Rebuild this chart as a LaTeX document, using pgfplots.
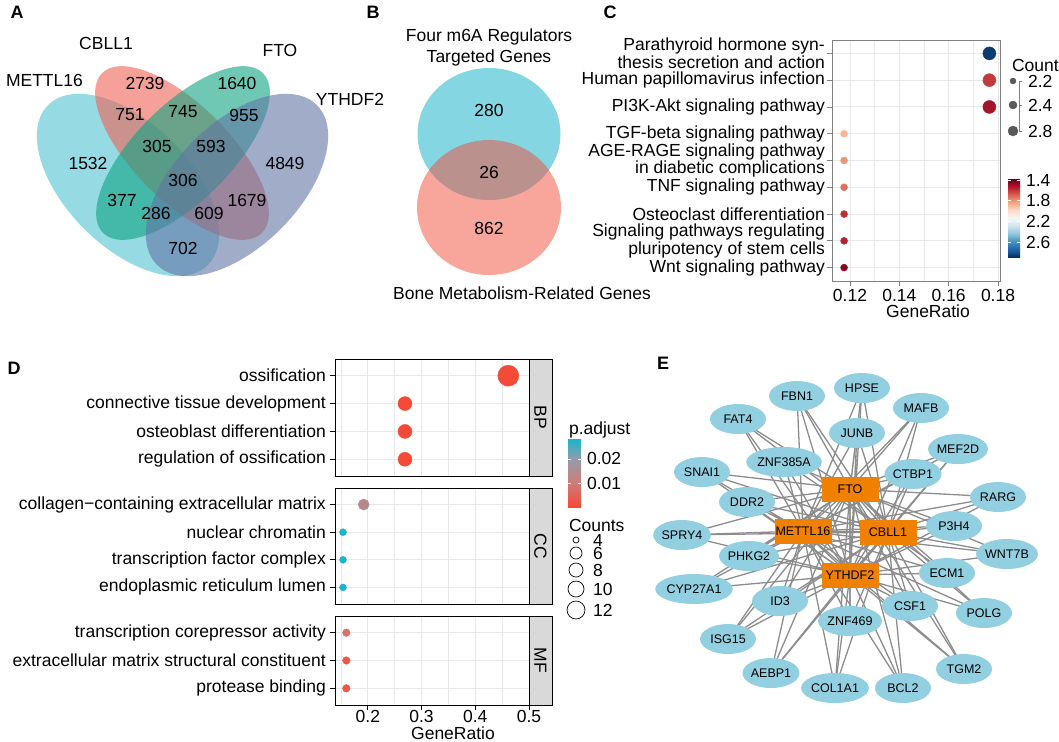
\documentclass[border=0pt]{standalone}
\usepackage{fontspec}
\setmainfont{Liberation Sans}
\usepackage{pgfplots}
\pgfplotsset{compat=1.18}
\usetikzlibrary{shapes.geometric}

\definecolor{vM}{RGB}{80,193,210}
\definecolor{vC}{RGB}{238,97,83}
\definecolor{vF}{RGB}{13,163,130}
\definecolor{vY}{RGB}{97,117,163}
\definecolor{bT}{RGB}{10,175,197}
\definecolor{bS}{RGB}{241,77,57}
\definecolor{netblue}{RGB}{146,208,225}
\definecolor{netorange}{RGB}{240,128,0}
\definecolor{edgegray}{RGB}{140,140,140}
\definecolor{stripgray}{RGB}{217,217,217}
\definecolor{gridgray}{RGB}{232,232,232}
\definecolor{legdot}{RGB}{89,89,89}
% RdBu stops (panel C colour bar)
\definecolor{rb0}{RGB}{103,0,31}
\definecolor{rb1}{RGB}{178,24,43}
\definecolor{rb2}{RGB}{214,96,77}
\definecolor{rb3}{RGB}{244,165,130}
\definecolor{rb4}{RGB}{253,219,199}
\definecolor{rb5}{RGB}{247,247,247}
\definecolor{rb6}{RGB}{209,229,240}
\definecolor{rb7}{RGB}{146,197,222}
\definecolor{rb8}{RGB}{67,147,195}
\definecolor{rb9}{RGB}{33,102,172}
\definecolor{rb10}{RGB}{5,48,97}
% p.adjust stops (panel D colour bar)
\definecolor{pa0}{RGB}{245,72,52}
\definecolor{pa1}{RGB}{205,125,120}
\definecolor{pa2}{RGB}{150,155,168}
\definecolor{pa3}{RGB}{25,180,205}

\pgfplotsset{
  /pgf/number format/assume math mode=true,
  colormap={rdbu}{rgb255=(103,0,31) rgb255=(178,24,43) rgb255=(214,96,77) rgb255=(244,165,130) rgb255=(253,219,199) rgb255=(247,247,247) rgb255=(209,229,240) rgb255=(146,197,222) rgb255=(67,147,195) rgb255=(33,102,172) rgb255=(5,48,97)},
  colormap={padj}{rgb255(0pt)=(245,72,52) rgb255(35pt)=(205,125,120) rgb255(70pt)=(150,155,168) rgb255(100pt)=(25,180,205)},
  ggpanel/.style={
    scale only axis, y dir=reverse,
    tick align=outside, major tick length=5pt, minor tick length=0pt,
    xtick pos=left, ytick pos=left,
    grid=both,
    major grid style={gridgray, line width=0.9pt},
    minor grid style={gridgray, line width=0.5pt},
    yticklabel style={align=right},
  },
  sizedots/.style={
    scatter, only marks, mark=*,
    scatter/use mapped color={#1},
    visualization depends on={\thisrow{s} \as \msize},
    scatter/@pre marker code/.append style={/tikz/mark size=\msize},
  },
  sizedots/.default={draw=mapped color,fill=mapped color},
  cbar/.style={
    scale only axis, anchor=south west, xmin=0, xmax=1, enlargelimits=false,
    xtick=\empty, scaled y ticks=false, axis on top,
    axis line style={draw=none}, tick style={draw=white, line width=0.7pt},
    major tick length=3pt, tick align=inside, ytick pos=both, yticklabel pos=right,
  },
}

\begin{document}
\fontsize{17.5}{20}\selectfont
\begin{tikzpicture}[x=1pt, y=1pt, font=\fontsize{17.5}{20}\selectfont]
\useasboundingbox (0pt,0pt) rectangle (1059pt,-741pt);

% ---------- canvas for Venn diagrams, network and legends ----------
\begin{axis}[at={(0pt,0pt)}, anchor=north west, width=1059pt, height=741pt,
  scale only axis, hide axis, clip=false,
  xmin=0, xmax=1059, ymin=0, ymax=741, y dir=reverse]

% panel letters
\node[font=\fontsize{18}{20}\selectfont\bfseries] at (axis cs:17,12) {A};
\node[font=\fontsize{18}{20}\selectfont\bfseries] at (axis cs:373,12) {B};
\node[font=\fontsize{18}{20}\selectfont\bfseries] at (axis cs:610,12) {C};
\node[font=\fontsize{18}{20}\selectfont\bfseries] at (axis cs:14,368) {D};
\node[font=\fontsize{18}{20}\selectfont\bfseries] at (axis cs:663,363) {E};

% A: four-set Venn
\fill[vM, fill opacity=0.6, rotate around={-45:(axis cs:128,185)}] (axis cs:128,185) ellipse [x radius=113pt, y radius=62pt];
\fill[vC, fill opacity=0.6, rotate around={-45:(axis cs:182,153)}] (axis cs:182,153) ellipse [x radius=113pt, y radius=48pt];
\fill[vF, fill opacity=0.6, rotate around={45:(axis cs:183,153)}] (axis cs:183,153) ellipse [x radius=113pt, y radius=48pt];
\fill[vY, fill opacity=0.6, rotate around={45:(axis cs:237,185)}] (axis cs:237,185) ellipse [x radius=113pt, y radius=62pt];
\node[anchor=west] at (axis cs:0,80) {METTL16};
\node at (axis cs:106,43) {CBLL1};
\node at (axis cs:280,50) {FTO};
\node at (axis cs:350,99) {YTHDF2};
\node at (axis cs:145,83) {2739};
\node at (axis cs:237,83) {1640};
\node at (axis cs:130,115) {751};
\node at (axis cs:183,112) {745};
\node at (axis cs:244,115) {955};
\node at (axis cs:88,163) {1532};
\node at (axis cs:157,146) {305};
\node at (axis cs:211,146) {593};
\node at (axis cs:285,163) {4849};
\node at (axis cs:183,180) {306};
\node at (axis cs:122,200) {377};
\node at (axis cs:247,200) {1679};
\node at (axis cs:156,213) {286};
\node at (axis cs:209,213) {609};
\node at (axis cs:183,248) {702};

% B: two-set Venn
\fill[bT, fill opacity=0.5] (axis cs:489,134) ellipse [x radius=71.5pt, y radius=66pt];
\fill[bS, fill opacity=0.5] (axis cs:489,207.5) ellipse [x radius=72pt, y radius=67.5pt];
\node at (axis cs:489,37) {Four m6A Regulators};
\node at (axis cs:489,58) {Targeted Genes};
\node at (axis cs:489,110) {280};
\node at (axis cs:489,172) {26};
\node at (axis cs:489,228) {862};
\node at (axis cs:522,293) {Bone Metabolism-Related Genes};

% C: Count legend
\node[anchor=west] at (axis cs:1006,65) {Count};
\addplot[gray, line width=0.6pt] coordinates {(1022,81) (1019,81) (1019,131) (1022,131)};
\addplot[gray, line width=0.6pt] coordinates {(1019,105) (1022,105)};
\addplot[sizedots={draw=legdot,fill=legdot}] table[x=x, y=y] {
x y s
1013 81 3
1013 105 4
1013 131 5
};
\node[anchor=west] at (axis cs:1022,81) {2.2};
\node[anchor=west] at (axis cs:1022,105) {2.4};
\node[anchor=west] at (axis cs:1022,131) {2.8};

% D: legends and x title
\node[anchor=west] at (axis cs:563,430) {p.adjust};
\node[anchor=west] at (axis cs:563,525) {Counts};
\addplot[sizedots={draw=black,fill=white}, line width=0.7pt] table[x=x, y=y] {
x y s
576 540 3
576 553 6
576 570 7
576 589 8
576 610 9
};
\node[anchor=west, inner ysep=0pt] at (axis cs:587,540) {4};
\node[anchor=west, inner ysep=0pt] at (axis cs:587,553) {6};
\node[anchor=west, inner ysep=0pt] at (axis cs:587,570) {8};
\node[anchor=west, inner ysep=0pt] at (axis cs:587,589) {10};
\node[anchor=west, inner ysep=0pt] at (axis cs:587,610) {12};
\node[inner sep=0pt] at (axis cs:453,733) {GeneRatio};

% E: network edges (each hub to every gene)
\addplot[edgegray, line width=1.3pt, line join=round] coordinates {
(850,489)(797,396)(850,489)(862,388)(850,489)(921,408)(850,489)(738,419)(850,489)(857,433)(850,489)(958,449)(850,489)(784,462)(850,489)(913,474)(850,489)(702,472)(850,489)(998,497)(850,489)(747,502)(850,489)(954,526)(850,489)(682,535)(850,489)(1007,554)(850,489)(749,556)(850,489)(947,573)(850,489)(694,589)(850,489)(780,601)(850,489)(910,606)(850,489)(984,613)(850,489)(850,621)(850,489)(728,639)(850,489)(964,669)(850,489)(771,673)(850,489)(835,688)(850,489)(903,688)(850,489)
};
\addplot[edgegray, line width=1.3pt, line join=round] coordinates {
(803,531)(797,396)(803,531)(862,388)(803,531)(921,408)(803,531)(738,419)(803,531)(857,433)(803,531)(958,449)(803,531)(784,462)(803,531)(913,474)(803,531)(702,472)(803,531)(998,497)(803,531)(747,502)(803,531)(954,526)(803,531)(682,535)(803,531)(1007,554)(803,531)(749,556)(803,531)(947,573)(803,531)(694,589)(803,531)(780,601)(803,531)(910,606)(803,531)(984,613)(803,531)(850,621)(803,531)(728,639)(803,531)(964,669)(803,531)(771,673)(803,531)(835,688)(803,531)(903,688)(803,531)
};
\addplot[edgegray, line width=1.3pt, line join=round] coordinates {
(888,532)(797,396)(888,532)(862,388)(888,532)(921,408)(888,532)(738,419)(888,532)(857,433)(888,532)(958,449)(888,532)(784,462)(888,532)(913,474)(888,532)(702,472)(888,532)(998,497)(888,532)(747,502)(888,532)(954,526)(888,532)(682,535)(888,532)(1007,554)(888,532)(749,556)(888,532)(947,573)(888,532)(694,589)(888,532)(780,601)(888,532)(910,606)(888,532)(984,613)(888,532)(850,621)(888,532)(728,639)(888,532)(964,669)(888,532)(771,673)(888,532)(835,688)(888,532)(903,688)(888,532)
};
\addplot[edgegray, line width=1.3pt, line join=round] coordinates {
(850,575)(797,396)(850,575)(862,388)(850,575)(921,408)(850,575)(738,419)(850,575)(857,433)(850,575)(958,449)(850,575)(784,462)(850,575)(913,474)(850,575)(702,472)(850,575)(998,497)(850,575)(747,502)(850,575)(954,526)(850,575)(682,535)(850,575)(1007,554)(850,575)(749,556)(850,575)(947,573)(850,575)(694,589)(850,575)(780,601)(850,575)(910,606)(850,575)(984,613)(850,575)(850,621)(850,575)(728,639)(850,575)(964,669)(850,575)(771,673)(850,575)(835,688)(850,575)(903,688)(850,575)
};
\addplot[edgegray, line width=1.3pt] coordinates {(850,489)(803,531)(850,575)(888,532)(850,489)(850,575)};
\addplot[edgegray, line width=1.3pt] coordinates {(803,531)(888,532)};

% E: gene nodes
\addplot[only marks, mark=*, mark size=0pt, mark options={draw=none, fill=none},
  nodes near coords, point meta=explicit symbolic,
  every node near coord/.append style={ellipse, fill=netblue, minimum width=56pt,
    minimum height=30pt, inner sep=0pt, anchor=center, text=black,
    font=\fontsize{12.5}{14}\selectfont}]
  table[x=x, y=y, meta=label] {
x y label
797 396 FBN1
862 388 HPSE
921 408 MAFB
738 419 FAT4
857 433 JUNB
958 449 MEF2D
784 462 ZNF385A
913 474 CTBP1
702 472 SNAI1
998 497 RARG
747 502 DDR2
954 526 P3H4
682 535 SPRY4
1007 554 WNT7B
749 556 PHKG2
947 573 ECM1
694 589 CYP27A1
780 601 ID3
910 606 CSF1
984 613 POLG
850 621 ZNF469
728 639 ISG15
964 669 TGM2
771 673 AEBP1
835 688 COL1A1
903 688 BCL2
};
% E: hub nodes
\addplot[only marks, mark=*, mark size=0pt, mark options={draw=none, fill=none},
  nodes near coords, point meta=explicit symbolic,
  every node near coord/.append style={rectangle, fill=netorange, minimum width=57pt,
    minimum height=25pt, inner sep=0pt, anchor=center, text=black,
    font=\fontsize{12.5}{14}\selectfont}]
  table[x=x, y=y, meta=label] {
x y label
850 489 FTO
803 531 METTL16
888 532 CBLL1
850 575 YTHDF2
};
\end{axis}

% ---------- C: KEGG dot plot ----------
\begin{axis}[ggpanel, at={(832pt,-281pt)}, anchor=south west, width=168pt, height=241pt,
  xmin=0.1127, xmax=0.1808, ymin=0.5, ymax=9.5,
  xtick={0.12,0.14,0.16,0.18}, minor xtick={0.13,0.15,0.17},
  xticklabel style={inner ysep=3pt, /pgf/number format/fixed, /pgf/number format/precision=2},
  ytick={1,...,9},
  yticklabels={{Parathyroid hormone syn-\\thesis secretion and action},
    {Human papillomavirus infection}, {PI3K-Akt signaling pathway},
    {TGF-beta signaling pathway},
    {AGE-RAGE signaling pathway\\in diabetic complications},
    {TNF signaling pathway}, {Osteoclast differentiation},
    {Signaling pathways regulating\\pluripotency of stem cells},
    {Wnt signaling pathway}},
  yticklabel style={inner xsep=2pt, font=\fontsize{17.5}{13}\selectfont},
  axis line style={gray, line width=0.8pt}, tick style={gray, line width=0.8pt},
  xlabel={GeneRatio}, xlabel style={xshift=12pt, yshift=6pt},
  colormap name=rdbu, point meta min=1.38, point meta max=2.89]
\addplot[sizedots, point meta=\thisrow{c}] table[x=x, y=y] {
x y c s
0.1765 1 2.86 6.5
0.1765 2 1.60 6.5
0.1765 3 1.50 6.5
0.1176 4 1.88 3.5
0.1176 5 1.80 3.5
0.1176 6 1.72 3.5
0.1176 7 1.58 3.5
0.1176 8 1.55 3.5
0.1176 9 1.44 3.5
};
\end{axis}

% C: colour bar
\begin{axis}[cbar, at={(1008pt,-257pt)}, width=12pt, height=78pt,
  ymin=1.38, ymax=2.89, y dir=reverse, ytick={1.4,1.8,2.2,2.6},
  yticklabel style={/pgf/number format/fixed, /pgf/number format/precision=1,
    /pgf/number format/fixed zerofill}]
\shade[top color=rb0, bottom color=rb1] (axis cs:0,1.380) rectangle (axis cs:1,1.531);
\shade[top color=rb1, bottom color=rb2] (axis cs:0,1.531) rectangle (axis cs:1,1.682);
\shade[top color=rb2, bottom color=rb3] (axis cs:0,1.682) rectangle (axis cs:1,1.833);
\shade[top color=rb3, bottom color=rb4] (axis cs:0,1.833) rectangle (axis cs:1,1.984);
\shade[top color=rb4, bottom color=rb5] (axis cs:0,1.984) rectangle (axis cs:1,2.135);
\shade[top color=rb5, bottom color=rb6] (axis cs:0,2.135) rectangle (axis cs:1,2.286);
\shade[top color=rb6, bottom color=rb7] (axis cs:0,2.286) rectangle (axis cs:1,2.437);
\shade[top color=rb7, bottom color=rb8] (axis cs:0,2.437) rectangle (axis cs:1,2.588);
\shade[top color=rb8, bottom color=rb9] (axis cs:0,2.588) rectangle (axis cs:1,2.739);
\shade[top color=rb9, bottom color=rb10] (axis cs:0,2.739) rectangle (axis cs:1,2.890);
\end{axis}

% ---------- D: GO dot plot, three facets ----------
\begin{axis}[ggpanel, clip=false, at={(335pt,-476pt)}, anchor=south west, width=194pt, height=117pt,
  xmin=0.1389, xmax=0.5, ymin=0.4, ymax=4.6,
  xtick={0.2,0.3,0.4,0.5}, minor xtick={0.15,0.25,0.35,0.45}, xticklabels={},
  xtick style={draw=none},
  ytick={1,...,4},
  yticklabels={ossification, connective tissue development,
    osteoblast differentiation, regulation of ossification},
  yticklabel style={inner xsep=4pt},
  axis line style={black, line width=0.9pt}, tick style={black, line width=0.8pt},
  colormap name=padj, point meta min=0, point meta max=0.0283]
\addplot[sizedots, point meta=\thisrow{p}] table[x=x, y=y] {
x y p s
0.4615 1 0.0005 10.5
0.2692 2 0.0005 7
0.2692 3 0.0005 7
0.2692 4 0.0005 7
};
\draw[black, fill=stripgray, line width=0.9pt] (rel axis cs:1,0) rectangle ([xshift=23pt]rel axis cs:1,1);
\node[rotate=-90] at ([xshift=11.5pt]rel axis cs:1,0.5) {BP};
\end{axis}

\begin{axis}[ggpanel, clip=false, at={(335pt,-604pt)}, anchor=south west, width=194pt, height=116pt,
  xmin=0.1389, xmax=0.5, ymin=0.4, ymax=4.6,
  xtick={0.2,0.3,0.4,0.5}, minor xtick={0.15,0.25,0.35,0.45}, xticklabels={},
  xtick style={draw=none},
  ytick={1,...,4},
  yticklabels={collagen−containing extracellular matrix, nuclear chromatin,
    transcription factor complex, endoplasmic reticulum lumen},
  yticklabel style={inner xsep=4pt},
  axis line style={black, line width=0.9pt}, tick style={black, line width=0.8pt},
  colormap name=padj, point meta min=0, point meta max=0.0283]
\addplot[sizedots, point meta=\thisrow{p}] table[x=x, y=y] {
x y p s
0.1923 1 0.0140 5.5
0.1538 2 0.0283 3.5
0.1538 3 0.0283 3.5
0.1538 4 0.0283 3.5
};
\draw[black, fill=stripgray, line width=0.9pt] (rel axis cs:1,0) rectangle ([xshift=23pt]rel axis cs:1,1);
\node[rotate=-90] at ([xshift=11.5pt]rel axis cs:1,0.5) {CC};
\end{axis}

\begin{axis}[ggpanel, clip=false, at={(335pt,-705pt)}, anchor=south west, width=194pt, height=89pt,
  xmin=0.1389, xmax=0.5, ymin=0.4, ymax=3.6,
  xtick={0.2,0.3,0.4,0.5}, minor xtick={0.15,0.25,0.35,0.45},
  xticklabel style={inner ysep=0pt, /pgf/number format/fixed, /pgf/number format/precision=1},
  ytick={1,...,3},
  yticklabels={transcription corepressor activity,
    extracellular matrix structural constituent, protease binding},
  yticklabel style={inner xsep=4pt},
  axis line style={black, line width=0.9pt}, tick style={black, line width=0.8pt},
  colormap name=padj, point meta min=0, point meta max=0.0283]
\addplot[sizedots, point meta=\thisrow{p}] table[x=x, y=y] {
x y p s
0.16 1 0.0080 3.8
0.16 2 0.0030 3.8
0.16 3 0.0030 3.8
};
\draw[black, fill=stripgray, line width=0.9pt] (rel axis cs:1,0) rectangle ([xshift=23pt]rel axis cs:1,1);
\node[rotate=-90] at ([xshift=11.5pt]rel axis cs:1,0.5) {MF};
\end{axis}

% D: colour bar
\begin{axis}[cbar, at={(568pt,-507pt)}, width=13pt, height=68pt,
  ymin=0, ymax=0.0283, ytick={0.01,0.02}, yticklabels={0.01,0.02}]
\shade[bottom color=pa0, top color=pa1] (axis cs:0,0) rectangle (axis cs:1,0.0099);
\shade[bottom color=pa1, top color=pa2] (axis cs:0,0.0099) rectangle (axis cs:1,0.0198);
\shade[bottom color=pa2, top color=pa3] (axis cs:0,0.0198) rectangle (axis cs:1,0.0283);
\end{axis}
\end{tikzpicture}
\end{document}
